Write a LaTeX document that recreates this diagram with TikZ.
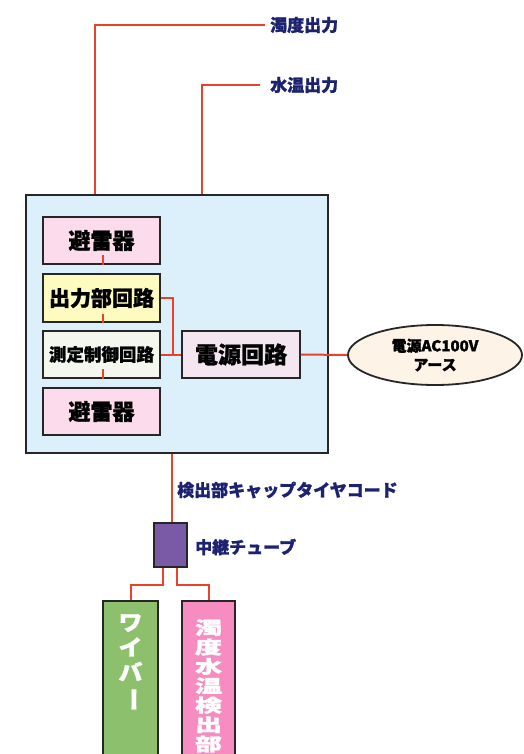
\documentclass[tikz,border=0pt]{standalone}
\usepackage{fontspec}
\usepackage{graphicx}
\newfontfamily\jp{Noto Sans CJK JP}[BoldFeatures={FakeBold=1.2}]
\usetikzlibrary{shapes.geometric}
\newcommand\sqz[1]{\scalebox{1}[0.66]{#1}}
\definecolor{navy}{HTML}{1C2270}
\definecolor{wire}{HTML}{E8412C}
\definecolor{boxblue}{HTML}{DCF0FB}
\definecolor{pinkbox}{HTML}{FCDCEC}
\definecolor{yelbox}{HTML}{FDFBBF}
\definecolor{measbox}{HTML}{F3F7EE}
\definecolor{pwrbox}{HTML}{F3E6F1}
\definecolor{ellfill}{HTML}{FDF3E7}
\definecolor{relayfill}{HTML}{7A5AA6}
\definecolor{wipefill}{HTML}{8CC06C}
\definecolor{detfill}{HTML}{F78CC0}
\tikzset{
  blk/.style={draw=black!85, line width=1.8pt, inner sep=0pt, font=\jp\bfseries},
  lab/.style={anchor=west, inner sep=0pt, text=navy, font=\jp\bfseries\fontsize{17}{17}\selectfont},
  wireln/.style={draw=wire, line width=2pt},
}
\begin{document}
\begin{tikzpicture}[x=1pt,y=-1pt]
\useasboundingbox (0,0) rectangle (524,754);
% main box
\node[blk, fill=boxblue, line width=2.2pt, minimum width=302pt, minimum height=258pt] (main) at (177,324) {};
\node[blk, fill=pinkbox, minimum width=117pt, minimum height=47pt, font=\jp\bfseries\fontsize{22}{22}\selectfont] (arr1) at (101.5,240.5) {避雷器};
\node[blk, fill=yelbox, minimum width=117pt, minimum height=48pt, font=\jp\bfseries\fontsize{21}{21}\selectfont] (outc) at (101.5,298) {出力部回路};
\node[blk, fill=measbox, minimum width=117pt, minimum height=47pt, font=\jp\bfseries\fontsize{17.5}{17.5}\selectfont] (meas) at (101.5,354.5) {測定制御回路};
\node[blk, fill=pinkbox, minimum width=117pt, minimum height=47pt, font=\jp\bfseries\fontsize{22}{22}\selectfont] (arr2) at (101.5,411.5) {避雷器};
\node[blk, fill=pwrbox, minimum width=118pt, minimum height=47pt, font=\jp\bfseries\fontsize{23}{23}\selectfont] (pwr) at (241,354.5) {電源回路};
\node[blk, ellipse, fill=ellfill, minimum width=174pt, minimum height=60pt, align=center, font=\jp\bfseries\fontsize{15}{19}\selectfont] (ac) at (435,355) {電源AC100V\\アース};
% relay and probes
\node[blk, fill=relayfill, minimum width=33pt, minimum height=44pt] (relay) at (170.5,545) {};
\node[blk, fill=wipefill, minimum width=55pt, minimum height=170pt, anchor=north] (wiper) at (130.5,600) {};
\node[text=white, align=center, font=\jp\bfseries\fontsize{24}{25}\selectfont, anchor=north, inner sep=0pt] (wipetxt) at (130.5,614) {\scalebox{1}[0.9]{ワ}\\\scalebox{1}[0.9]{イ}\\\scalebox{1}[0.9]{バ}\\\rotatebox[origin=c]{-90}{ー}};
\node[blk, fill=detfill, minimum width=53pt, minimum height=170pt, anchor=north] (det) at (208.5,600) {};
\node[text=white, align=center, font=\jp\bfseries\fontsize{27}{19.4}\selectfont, anchor=north, inner sep=0pt] (dettxt) at (208.5,619) {\sqz{濁}\\\sqz{度}\\\sqz{水}\\\sqz{温}\\\sqz{検}\\\sqz{出}\\\sqz{部}};
% labels
\node[lab] (turb) at (270,25) {濁度出力};
\node[lab] (temp) at (270,85) {水温出力};
\node[lab] (cable) at (177,490) {検出部キャップタイヤコード};
\node[lab] (relaylab) at (195,547) {中継チューブ};
% coordinates
\coordinate (t1) at (95,25);
\coordinate (t2) at (202,85);
\coordinate (j) at (173,354.5);
\coordinate (s1) at (163,585);
\coordinate (s2) at (177,585);
% wires
\draw[wireln] (turb.west) ++(-5pt,0) -- (t1) -- (t1 |- main.north);
\draw[wireln] (temp.west) ++(-10pt,0) -- (t2) -- (t2 |- main.north);
\draw[wireln] (arr1.south) ++(1.5pt,0) -- ++(0,10pt);
\draw[wireln] (outc.south) ++(1.5pt,0) -- ++(0,9pt);
\draw[wireln] (meas.south) ++(1.5pt,0) -- ++(0,10pt);
\draw[wireln] (outc.east) -- (outc.east -| j) -- (j);
\draw[wireln] (meas.east) -- (pwr.west);
\draw[wireln] (pwr.east) -- (ac.west);
\draw[wireln] (relay.north) ++(1.5pt,0) coordinate (rn) -- (rn |- main.south);
\draw[wireln] (relay.south -| s1) -- (s1) -- (s1 -| wiper) -- (wiper.north);
\draw[wireln] (relay.south -| s2) -- (s2) -- (s2 -| det) -- (det.north);
\end{tikzpicture}
\end{document}
